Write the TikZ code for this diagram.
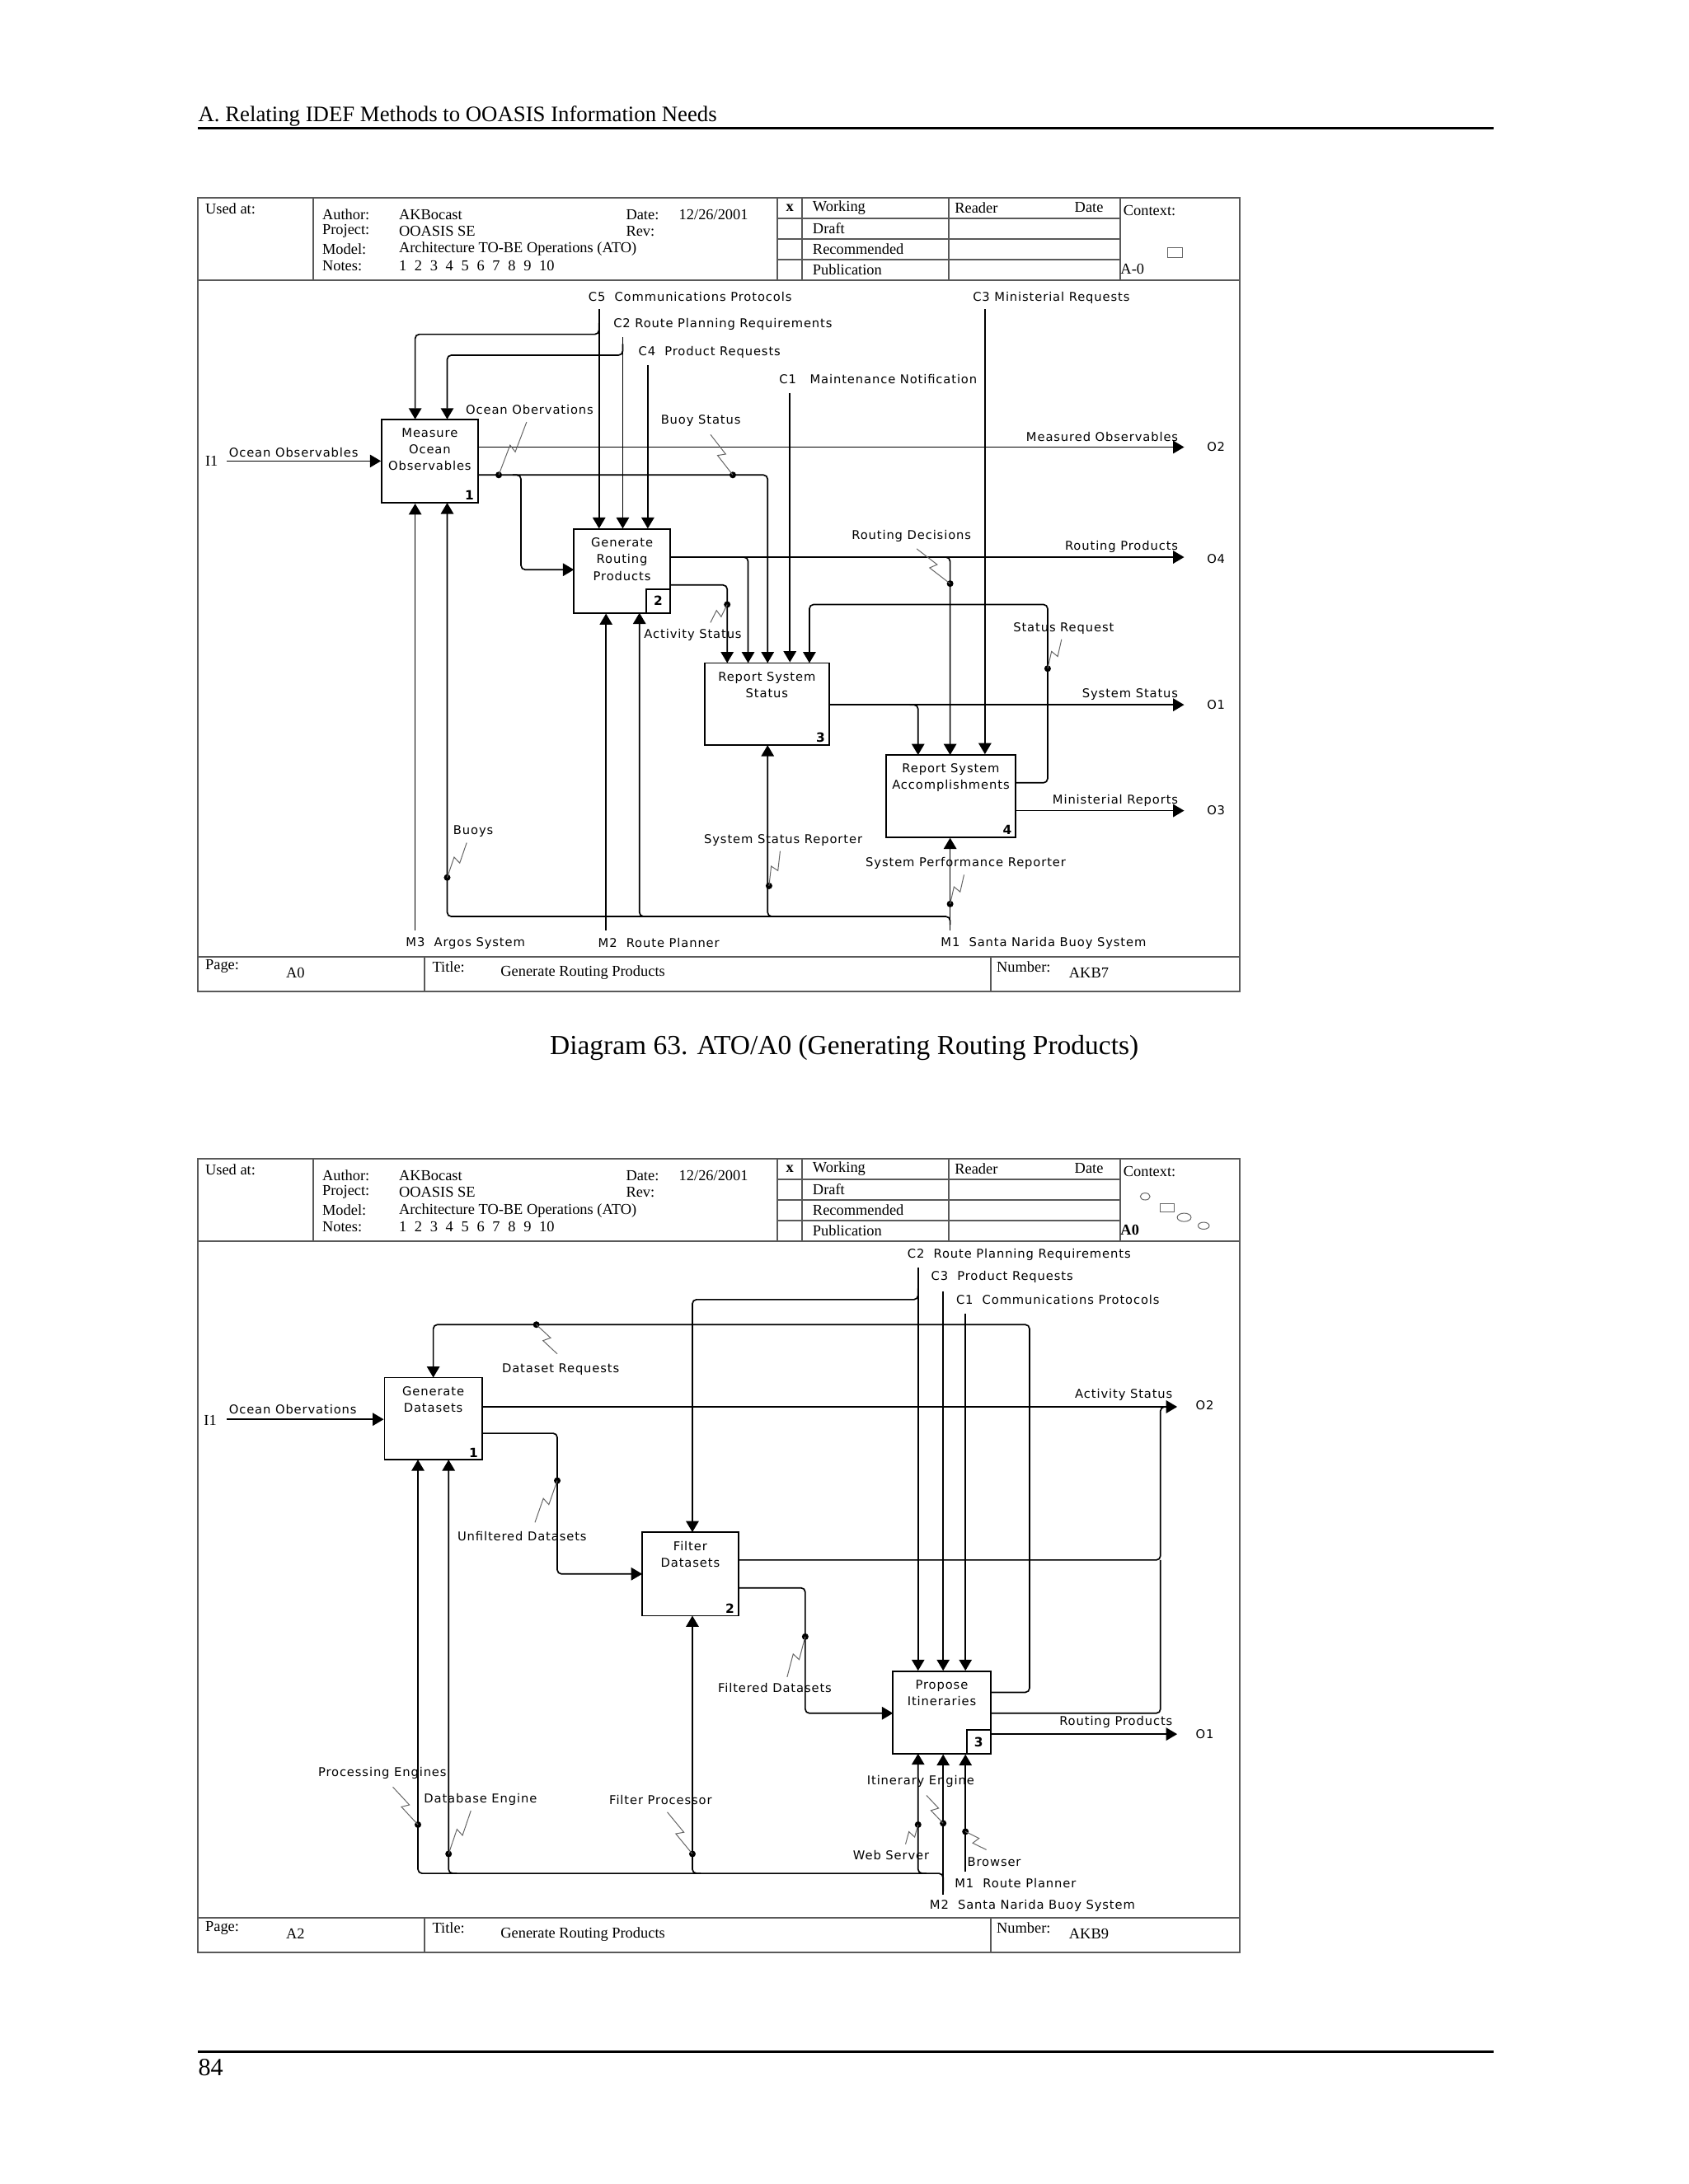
\documentclass[tikz,border=0pt]{standalone}
\usepackage{fontspec}
\setmainfont{Liberation Serif}
\newfontfamily\lblfam[LetterSpace=6]{DejaVu Sans}
\newfontfamily\numfam{DejaVu Sans}
\usetikzlibrary{calc,arrows.meta,fit}
\newcommand\lblf{\lblfam\fontsize{4.4pt}{6pt}\selectfont}
\newcommand\hdrf{\fontsize{5.5pt}{6.5pt}\selectfont}
\newcommand\numf{\numfam\bfseries\fontsize{4.6pt}{5pt}\selectfont}
\newcommand\sqz[2]{\draw[sqg] (#1) -- ($(#1)!0.53!(#2)!1.4pt!90:(#2)$) -- ($(#1)!0.47!(#2)!1.4pt!-90:(#2)$) -- (#2);}
\newcommand\nsp{\hspace{2.9pt}}
\tikzset{
  lab/.style={font=\lblf, inner sep=0pt, anchor=west},
  labe/.style={font=\lblf, inner sep=0pt, anchor=east},
  btxt/.style={font=\lblf, inner sep=0pt, align=center, anchor=north},
  hd/.style={font=\hdrf, inner sep=0pt, anchor=west},
  bx/.style={draw, line width=0.55pt, inner sep=0pt},
  wire/.style={line width=0.5pt, rounded corners=1.5pt},
  arr/.style={wire, -{Triangle[length=4pt,width=4.6pt]}},
  sqg/.style={line width=0.3pt, draw=black!60},
  dot/.style={circle, fill, inner sep=0pt, minimum size=2.4pt},
  frm/.style={line width=0.6pt, draw=black!65},
  numl/.style={font=\numf, inner sep=0pt, anchor=south east},
}
\newcommand\formframe[3]{%
  \draw[frm] (142,142) rectangle (890,712);
  \draw[frm] (142,201) -- (890,201) (142,687) -- (890,687);
  \draw[frm] (225,142) -- (225,201) (558,142) -- (558,201) (576,142) -- (576,201)
     (681,142) -- (681,201) (804,142) -- (804,201);
  \draw[frm] (558,156.75) -- (804,156.75) (558,171.5) -- (804,171.5) (558,186.25) -- (804,186.25);
  \draw[frm] (305,687) -- (305,712) (711,687) -- (711,712);
  \node[hd] (usedat) at (147,150) {Used at:};
  \node[hd] (auth) at (231,154) {Author:};
  \node[hd] (authv) at (286,154) {AKBocast};
  \node[hd] (date) at (449,154) {Date:};
  \node[hd] (datev) at (487,154) {12/26/2001};
  \node[hd] (proj) at (231,166) {Project:};
  \node[hd] (projv) at (286,166) {OOASIS SE};
  \node[hd] (rev) at (449,166) {Rev:};
  \node[hd] (model) at (231,179) {Model:};
  \node[hd] (modelv) at (286,179) {Architecture TO-BE Operations (ATO)};
  \node[hd] (notes) at (231,191) {Notes:};
  \node[hd] (notesv) at (286,191) {1\nsp2\nsp3\nsp4\nsp5\nsp6\nsp7\nsp8\nsp9\nsp10};
  \node[hd, anchor=center, font=\hdrf\bfseries] (xmark) at (567,149) {x};
  \node[hd] (work) at (583,149) {Working};
  \node[hd] (draft) at (583,164) {Draft};
  \node[hd] (recom) at (583,179) {Recommended};
  \node[hd] (publ) at (583,193.5) {Publication};
  \node[hd] (reader) at (685,149) {Reader};
  \node[hd] (rdate) at (771,149) {Date};
  \node[hd] (context) at (806,151) {Context:};
  \node[hd] (page) at (147,694) {Page:};
  \node[hd] (pagev) at (205,698.5) {#1};
  \node[hd] (title) at (310,694) {Title:};
  \node[hd] (titlev) at (359,698.5) {Generate Routing Products};
  \node[hd] (number) at (715,694) {Number:};
  \node[hd] (numberv) at (767,698.5) {#2};
  #3
}
\begin{document}
\begin{tikzpicture}[x=0.505pt,y=-0.505pt]
\fill[white] (0,0) rectangle (1212,1568);
\useasboundingbox (0,0) rectangle (1212,1568);

% page furniture
\node[font=\fontsize{8pt}{9pt}\selectfont, anchor=base west, inner sep=0pt] (runhead) at (142,87) {A. Relating IDEF Methods to OOASIS Information Needs};
\draw[line width=0.8pt] (142,92) -- (1072,92);
\draw[line width=0.8pt] (142,1473) -- (1072,1473);
\node[font=\fontsize{9pt}{10pt}\selectfont, anchor=base west, inner sep=0pt] (pagenum) at (142,1490) {84};
\node[font=\fontsize{10pt}{12pt}\selectfont, inner sep=0pt] (caption) at (606,752.5) {Diagram 63. ATO/A0 (Generating Routing Products)};

% ================= TOP DIAGRAM =================
\begin{scope}[name prefix=A-]
\formframe{A0}{AKB7}{%
  \node[hd] (ctx) at (804,193) {A-0};
  \draw[line width=0.3pt, draw=black!60] (838,178) rectangle (849,185);
}
\end{scope}

\node[bx, fit={(274,301)(343,361)}] (b1) {};
\node[btxt] (b1t) at ($(b1.north)+(0,6.5)$) {Measure\\Ocean\\Observables};
\node[numl] (b1n) at ($(b1.south east)+(-3,-2)$) {1};
\node[bx, fit={(412,380)(481,440)}] (b2) {};
\node[btxt] (b2t) at ($(b2.north)+(0,6.5)$) {Generate\\Routing\\Products};
\node[bx, fit={(464,423)(481,440)}] (b2nb) {};
\node[font=\numf, inner sep=0pt] (b2n) at (b2nb) {2};
\node[bx, fit={(506,476)(595,535)}] (b3) {};
\node[btxt] (b3t) at ($(b3.north)+(0,6.5)$) {Report System\\Status};
\node[numl] (b3n) at ($(b3.south east)+(-3,-2)$) {3};
\node[bx, fit={(636,542)(729,601)}] (b4) {};
\node[btxt] (b4t) at ($(b4.north)+(0,6.5)$) {Report System\\Accomplishments};
\node[numl] (b4n) at ($(b4.south east)+(-3,-2)$) {4};

% controls
\node[lab] (lc5) at (422,213) {C5\ \ Communications Protocols};
\node[lab] (lc2) at (440,233) {C2 Route Planning Requirements};
\node[lab] (lc4) at (458,253) {C4\ \ Product Requests};
\node[lab] (lc1) at (559,272) {C1\ \ \ Maintenance Notification};
\node[lab] (lc3) at (698,214) {C3 Ministerial Requests};
\coordinate (c5) at (430,222);
\coordinate (c2) at (447,242);
\coordinate (c4) at (465,262);
\coordinate (c1) at (567,282);
\coordinate (c3) at (707,222);
\draw[arr] (c5) -- (c5 |- b2.north);
\draw[arr] (430,232) |- (298,240) -- (298,301);
\draw[arr] (c2) -- (c2 |- b2.north);
\draw[arr] (447,247) |- (321,255) -- (321,301);
\draw[arr] (c4) -- (c4 |- b2.north);
\draw[arr] (c1) -- (c1 |- b3.north);
\draw[arr] (c3) -- (c3 |- b4.north);

% input
\node[hd] (li1) at (147,331) {I1};
\node[lab] (lin) at (164,325) {Ocean Observables};
\coordinate (i1) at (163,331);
\draw[arr] (i1) -- (i1 -| b1.west);

% outputs of box 1
\node[labe] (lmo) at (846,313.5) {Measured Observables};
\node[lab] (lo2) at (866,321) {O2};
\draw[arr] (343,321) -- (850,321);
\draw[arr] (343,341) -| (551,476);
\draw[arr] (368,341) -| (374,409) -- (412,409);
\node[lab] (loo) at (334,294) {Ocean Obervations};
\node[dot] (d1) at (358,341) {};
\sqz{378,303}{358,341}
\node[lab] (lbs) at (474,302) {Buoy Status};
\node[dot] (d2) at (526,341) {};
\sqz{510,312}{526,341}

% outputs of box 2
\node[labe] (lrp) at (846,392.5) {Routing Products};
\node[lab] (lo4) at (866,401) {O4};
\draw[arr] (481,400) -- (850,400);
\draw[arr] (531,400) -| (537,476);
\draw[arr] (676,400) -| (682,542);
\node[lab] (lrd) at (611,385) {Routing Decisions};
\node[dot] (d3) at (682,419) {};
\sqz{658,394}{682,419}
\draw[arr] (481,420) -| (522,476);
\node[lab] (las) at (462,456) {Activity Status};
\node[dot] (d4) at (522,434) {};
\sqz{510,447}{522,434}

% status request feedback
\draw[arr] (729,562) -| (752,434) -| (581,476);
\node[lab] (lsr) at (727,451) {Status Request};
\node[dot] (d5) at (752,480) {};
\sqz{762,459}{752,480}

% outputs of box 3 and 4
\node[labe] (lss) at (846,498.5) {System Status};
\node[lab] (lo1) at (866,506) {O1};
\draw[arr] (595,506) -- (850,506);
\draw[arr] (653,506) -| (659,542);
\node[labe] (lmr) at (846,574.5) {Ministerial Reports};
\node[lab] (lo3) at (866,582) {O3};
\draw[arr] (729,582) -- (850,582);

% mechanisms
\node[lab] (lm3) at (291,677) {M3\ \ Argos System};
\node[lab] (lm2) at (429,677) {M2\ \ Route Planner};
\node[lab] (lm1) at (675,677) {M1\ \ Santa Narida Buoy System};
\coordinate (m3) at (298,668);
\coordinate (m2) at (435,668);
\coordinate (m1) at (682,668);
\draw[arr] (m3) -- (m3 |- b1.south);
\draw[arr] (m2) -- (m2 |- b2.south);
\draw[arr] (m1) -- (m1 |- b4.south);
\draw[arr] (682,664) |- (321,658) -- (321,361);
\draw[arr] (465,658) -| (459,440);
\draw[arr] (557,658) -| (551,535);
\node[lab] (lbuoys) at (325,597) {Buoys};
\node[dot] (d6) at (321,630) {};
\sqz{335,605}{321,630}
\node[lab] (lssr) at (505,603) {System Status Reporter};
\node[dot] (d7) at (552,636) {};
\sqz{560,611}{552,636}
\node[lab] (lspr) at (621,620) {System Performance Reporter};
\node[dot] (d8) at (682,649) {};
\sqz{692,628}{682,649}

% ================= BOTTOM DIAGRAM =================
\begin{scope}[shift={(0,690)}, name prefix=B-]
\formframe{A2}{AKB9}{%
  \node[hd, font=\hdrf\bfseries] (ctx) at (804,193) {A0};
  \draw[line width=0.3pt, draw=black!60] (822,169) ellipse (3.5 and 2.5);
  \draw[line width=0.3pt, draw=black!60] (833,174) rectangle (843,180);
  \draw[line width=0.3pt, draw=black!60] (850,184) ellipse (5 and 3);
  \draw[line width=0.3pt, draw=black!60] (864,190) ellipse (4 and 2.5);
}
\end{scope}

\node[bx, fit={(276,989)(346,1048)}] (e1) {};
\node[btxt] (e1t) at ($(e1.north)+(0,6.5)$) {Generate\\Datasets};
\node[numl] (e1n) at ($(e1.south east)+(-3,-2)$) {1};
\node[bx, fit={(461,1100)(530,1160)}] (e2) {};
\node[btxt] (e2t) at ($(e2.north)+(0,6.5)$) {Filter\\Datasets};
\node[numl] (e2n) at ($(e2.south east)+(-3,-2)$) {2};
\node[bx, fit={(641,1200)(711,1259)}] (e3) {};
\node[btxt] (e3t) at ($(e3.north)+(0,6.5)$) {Propose\\Itineraries};
\node[bx, fit={(694,1242)(711,1259)}] (e3nb) {};
\node[font=\numf, inner sep=0pt] (e3n) at (e3nb) {3};

% controls
\node[lab] (kc2) at (651,901) {C2\ \ Route Planning Requirements};
\node[lab] (kc3) at (668,917) {C3\ \ Product Requests};
\node[lab] (kc1) at (686,933) {C1\ \ Communications Protocols};
\coordinate (k2) at (659,910);
\coordinate (k3) at (677,927);
\coordinate (k1) at (693,943);
\draw[arr] (k2) -- (k2 |- e3.north);
\draw[arr] (659,925) |- (497,933) -- (497,1100);
\draw[arr] (k3) -- (k3 |- e3.north);
\draw[arr] (k1) -- (k1 |- e3.north);

% dataset requests feedback
\draw[arr] (711,1215) -| (739,951) -| (311,989);
\node[lab] (kdr) at (360,983) {Dataset Requests};
\node[dot] (f1) at (385,951) {};
\sqz{400,972}{385,951}

% input
\node[hd] (ki1) at (146,1020) {I1};
\node[lab] (kin) at (164,1012) {Ocean Obervations};
\coordinate (j1) at (163,1019);
\draw[arr] (j1) -- (j1 -| e1.west);

% outputs
\node[labe] (kas) at (842,1001.5) {Activity Status};
\node[lab] (ko2) at (858,1009) {O2};
\draw[arr] (346,1010) -- (845,1010);
\draw[wire] (530,1120) -| (833,1010) -- (840,1010);
\draw[wire] (711,1230) -| (833,1120);
\node[labe] (krp) at (842,1236.5) {Routing Products};
\node[lab] (ko1) at (858,1245) {O1};
\draw[arr] (711,1245) -- (845,1245);

\draw[arr] (346,1029) -| (400,1130) -- (461,1130);
\node[lab] (kud) at (328,1103) {Unfiltered Datasets};
\node[dot] (f2) at (400,1063) {};
\sqz{384,1093}{400,1063}
\draw[arr] (530,1140) -| (578,1230) -- (641,1230);
\node[lab] (kfd) at (515,1212) {Filtered Datasets};
\node[dot] (f3) at (578,1175) {};
\sqz{565,1204}{578,1175}

% mechanisms
\coordinate (n2) at (677,1360);
\coordinate (n1) at (693,1344);
\draw[arr] (677,1358) |- (300,1345) -- (300,1048);
\draw[arr] (328,1345) -| (322,1048);
\draw[arr] (503,1345) -| (497,1160);
\draw[arr] (665,1345) -| (659,1259);
\draw[arr] (n2) -- (n2 |- e3.south);
\draw[arr] (n1) -- (n1 |- e3.south);
\node[lab] (kpe) at (228,1273) {Processing Engines};
\node[dot] (f4) at (300,1310) {};
\sqz{282,1283}{300,1310}
\node[lab] (kde) at (304,1292) {Database Engine};
\node[dot] (f5) at (322,1331) {};
\sqz{338,1300}{322,1331}
\node[lab] (kfp) at (437,1292) {Filter Processor};
\node[dot] (f6) at (497,1331) {};
\sqz{479,1301}{497,1331}
\node[lab] (kie) at (622,1279) {Itinerary Engine};
\node[dot] (f7) at (677,1309) {};
\sqz{665,1289}{677,1309}
\node[lab] (kws) at (612,1332) {Web Server};
\node[dot] (f8) at (659,1310) {};
\sqz{650,1324}{659,1310}
\node[lab] (kbr) at (694,1337) {Browser};
\node[dot] (f9) at (693,1315) {};
\sqz{708,1328}{693,1315}
\node[lab] (km1) at (685,1352) {M1\ \ Route Planner};
\node[lab] (km2) at (667,1368) {M2\ \ Santa Narida Buoy System};
\end{tikzpicture}
\end{document}
